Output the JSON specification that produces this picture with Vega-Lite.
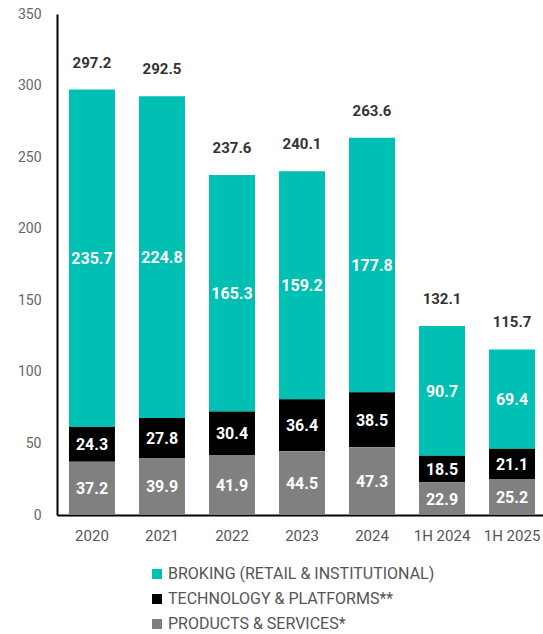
{
  "$schema": "https://vega.github.io/schema/vega-lite/v6.json",
  "width": 490,
  "height": 501,
  "autosize": {"type": "none"},
  "padding": {"left": 57, "top": 14, "right": -4, "bottom": 119},
  "background": "white",
  "config": {"view": {"stroke": null}, "font": "Roboto"},
  "data": {
    "values": [
      {"period": "2020", "segment": "BROKING (RETAIL & INSTITUTIONAL)", "value": 235.7},
      {"period": "2020", "segment": "TECHNOLOGY & PLATFORMS**", "value": 24.3},
      {"period": "2020", "segment": "PRODUCTS & SERVICES*", "value": 37.2},
      {"period": "2021", "segment": "BROKING (RETAIL & INSTITUTIONAL)", "value": 224.8},
      {"period": "2021", "segment": "TECHNOLOGY & PLATFORMS**", "value": 27.8},
      {"period": "2021", "segment": "PRODUCTS & SERVICES*", "value": 39.9},
      {"period": "2022", "segment": "BROKING (RETAIL & INSTITUTIONAL)", "value": 165.3},
      {"period": "2022", "segment": "TECHNOLOGY & PLATFORMS**", "value": 30.4},
      {"period": "2022", "segment": "PRODUCTS & SERVICES*", "value": 41.9},
      {"period": "2023", "segment": "BROKING (RETAIL & INSTITUTIONAL)", "value": 159.2},
      {"period": "2023", "segment": "TECHNOLOGY & PLATFORMS**", "value": 36.4},
      {"period": "2023", "segment": "PRODUCTS & SERVICES*", "value": 44.5},
      {"period": "2024", "segment": "BROKING (RETAIL & INSTITUTIONAL)", "value": 177.8},
      {"period": "2024", "segment": "TECHNOLOGY & PLATFORMS**", "value": 38.5},
      {"period": "2024", "segment": "PRODUCTS & SERVICES*", "value": 47.3},
      {"period": "1H 2024", "segment": "BROKING (RETAIL & INSTITUTIONAL)", "value": 90.7},
      {"period": "1H 2024", "segment": "TECHNOLOGY & PLATFORMS**", "value": 18.5},
      {"period": "1H 2024", "segment": "PRODUCTS & SERVICES*", "value": 22.9},
      {"period": "1H 2025", "segment": "BROKING (RETAIL & INSTITUTIONAL)", "value": 69.4},
      {"period": "1H 2025", "segment": "TECHNOLOGY & PLATFORMS**", "value": 21.1},
      {"period": "1H 2025", "segment": "PRODUCTS & SERVICES*", "value": 25.2}
    ]
  },
  "transform": [
    {"calculate": "indexof(['PRODUCTS & SERVICES*', 'TECHNOLOGY & PLATFORMS**', 'BROKING (RETAIL & INSTITUTIONAL)'], datum.segment)", "as": "rank"}
  ],
  "encoding": {
    "x": {
      "field": "period",
      "type": "nominal",
      "sort": null,
      "scale": {"paddingInner": 0.343, "paddingOuter": 0.171},
      "axis": {
        "title": null,
        "labelAngle": 0,
        "ticks": false,
        "domainColor": "#000000",
        "domainWidth": 2,
        "labelColor": "#555555",
        "labelFontSize": 15,
        "labelPadding": 13
      }
    }
  },
  "layer": [
    {
      "mark": {"type": "bar"},
      "encoding": {
        "y": {
          "field": "value",
          "type": "quantitative",
          "stack": "zero",
          "scale": {"domain": [0, 350]},
          "axis": {
            "title": null,
            "values": [0, 50, 100, 150, 200, 250, 300, 350],
            "grid": false,
            "ticks": false,
            "domainColor": "#000000",
            "domainWidth": 2,
            "labelColor": "#666666",
            "labelFontSize": 14,
            "labelPadding": 16
          }
        },
        "color": {
          "field": "segment",
          "type": "nominal",
          "scale": {
            "domain": ["BROKING (RETAIL & INSTITUTIONAL)", "TECHNOLOGY & PLATFORMS**", "PRODUCTS & SERVICES*"],
            "range": ["#00BFB3", "#000000", "#808080"]
          },
          "legend": {
            "orient": "none",
            "legendX": 92,
            "legendY": 552,
            "title": null,
            "padding": 0,
            "symbolType": "square",
            "symbolSize": 100,
            "symbolStrokeWidth": 0,
            "labelFontSize": 16,
            "labelColor": "#555555",
            "labelOffset": 3,
            "rowPadding": 9,
            "labelLimit": 400
          }
        },
        "order": {"field": "rank", "type": "quantitative"}
      }
    },
    {
      "mark": {"type": "text", "color": "white", "fontWeight": "bold", "fontSize": 16, "baseline": "middle", "dy": 1},
      "encoding": {
        "y": {"field": "value", "type": "quantitative", "stack": "zero", "bandPosition": 0.5},
        "detail": {"field": "segment", "type": "nominal"},
        "order": {"field": "rank", "type": "quantitative"},
        "text": {"field": "value", "type": "quantitative", "format": ".1f"}
      }
    },
    {
      "mark": {"type": "text", "color": "#333333", "fontWeight": "bold", "fontSize": 15, "baseline": "middle", "dy": -27},
      "encoding": {
        "y": {"aggregate": "sum", "field": "value", "type": "quantitative"},
        "text": {"aggregate": "sum", "field": "value", "type": "quantitative", "format": ".1f"}
      }
    }
  ]
}
